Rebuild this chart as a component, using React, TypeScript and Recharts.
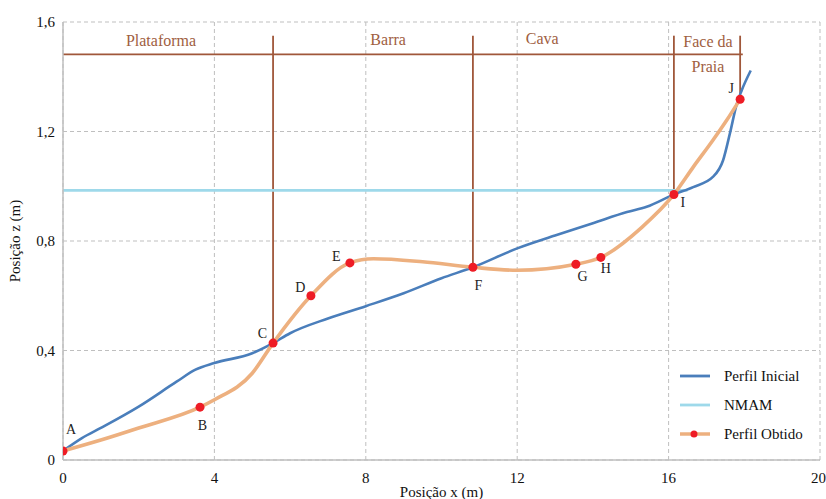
import React from 'react';
import {
  ComposedChart,
  Line,
  XAxis,
  YAxis,
  CartesianGrid,
  ReferenceLine,
  Scatter,
  Legend,
} from 'recharts';

// ---- axis ticks ----
const xTicks = [0, 4, 8, 12, 16, 20];
const zTicks = [0, 0.4, 0.8, 1.2, 1.6];

// ---- Perfil Inicial (blue) ----
const inicialX = [0, 0.5, 1, 2, 3, 3.5, 4, 5, 5.55, 6, 7, 8, 9, 10, 10.83, 12, 13, 14, 14.9, 15.42, 16.14, 16.65, 17.17, 17.44, 17.62, 17.8, 17.93, 18.17];
const inicialZ = [0.033, 0.08, 0.117, 0.195, 0.286, 0.33, 0.354, 0.39, 0.427, 0.463, 0.517, 0.562, 0.609, 0.664, 0.704, 0.773, 0.82, 0.865, 0.906, 0.925, 0.97, 0.997, 1.034, 1.095, 1.193, 1.3, 1.35, 1.423];

// ---- NMAM (light blue) ----
const nmamX = [0, 16.5];
const nmamZ = [0.985, 0.985];

// ---- Perfil Obtido (orange) ----
const obtidoX = [0, 1, 2, 3.62, 4, 5, 5.55, 6.55, 7.58, 8.2, 9.5, 10.83, 12, 13.55, 14.21, 15.3, 16.14, 16.65, 17.17, 17.53, 17.89];
const obtidoZ = [0.033, 0.073, 0.117, 0.193, 0.22, 0.317, 0.427, 0.6, 0.72, 0.735, 0.724, 0.704, 0.693, 0.715, 0.74, 0.851, 0.97, 1.07, 1.168, 1.24, 1.318];
const obtidoLabel = ['A', '', '', 'B', '', '', 'C', 'D', 'E', '', '', 'F', '', 'G', 'H', '', 'I', '', '', '', 'J'];

// ---- sections ----
const sectionBoundaries = ['C', 'F', 'I', 'J'];
const sectionTopZ = 1.55;
const sectionBarZ = 1.482;
const sectionBarEndX = 17.96;

const regionNames = ['Plataforma', 'Barra', 'Cava', 'Face da', 'Praia'];
const regionX = [2.59, 8.59, 12.66, 17.04, 17.04];
const regionZ = [1.533, 1.536, 1.54, 1.529, 1.436];

// ---- legend ----
const legendNames = ['Perfil Inicial', 'NMAM', 'Perfil Obtido'];

// ---- styles ----
const FONT = '"Liberation Serif", "Times New Roman", serif';
const BLUE = '#4A7EBB';
const CYAN = '#9ED9EA';
const ORANGE = '#EDB07F';
const RED = '#EE1C25';
const BROWN = '#A0573A';
const BROWN_TEXT = '#A0603F';
const GRID = '#BFBFBF';

const letterOffsets: Record<string, [number, number]> = {
  A: [8, -21],
  B: [2.5, 18],
  C: [-10.6, -10],
  D: [-10.5, -8.5],
  E: [-13.5, -6],
  F: [5.6, 18],
  G: [6.7, 12],
  H: [5, 11],
  I: [9, 8],
  J: [-9, -10.7],
};

const inicialData = inicialX.map((x, i) => ({ x, z: inicialZ[i] }));
const nmamData = nmamX.map((x, i) => ({ x, z: nmamZ[i] }));
const obtidoData = obtidoX.map((x, i) => ({ x, z: obtidoZ[i], label: obtidoLabel[i] }));
const regionData = regionNames.map((name, i) => ({ x: regionX[i], z: regionZ[i], name }));

const fmtZ = (v: number) => (v === 0 ? '0' : v.toFixed(1).replace('.', ','));

const renderObtidoDot = (props: any) => {
  const { cx, cy, payload, index } = props;
  if (!payload || !payload.label) return <g key={`od-${index}`} />;
  const off = letterOffsets[payload.label] || [0, 0];
  return (
    <g key={`od-${index}`}>
      <circle cx={cx} cy={cy} r={4.5} fill={RED} stroke="none" />
      <text
        x={cx + off[0]}
        y={cy + off[1]}
        textAnchor="middle"
        dominantBaseline="central"
        fontSize={14}
        fontFamily={FONT}
        fill="#222"
      >
        {payload.label}
      </text>
    </g>
  );
};

const renderRegionLabel = (props: any) => {
  const { cx, cy, payload } = props;
  return (
    <text
      x={cx}
      y={cy}
      textAnchor="middle"
      dominantBaseline="central"
      fontSize={16}
      fontFamily={FONT}
      fill={BROWN_TEXT}
    >
      {payload.name}
    </text>
  );
};

const legendColors = [BLUE, CYAN, ORANGE];
const renderLegend = () => (
  <svg width={150} height={95} style={{ display: 'block' }}>
    {legendNames.map((name, i) => {
      const y = 16 + i * 29;
      return (
        <g key={name}>
          <line x1={4} x2={34} y1={y} y2={y} stroke={legendColors[i]} strokeWidth={i === 2 ? 3.5 : 2.8} />
          {i === 2 && <circle cx={18} cy={y} r={3.5} fill={RED} />}
          <text x={48} y={y} dominantBaseline="central" fontSize={15} fontFamily={FONT} fill="#111">
            {name}
          </text>
        </g>
      );
    })}
  </svg>
);

export default function App() {
  return (
    <div style={{ position: 'absolute', left: 0, top: 0, width: 826, height: 499, background: '#fff' }}>
      <ComposedChart width={826} height={499} margin={{ top: 22, right: 6, bottom: 0, left: 0 }}>
        <CartesianGrid stroke={GRID} strokeDasharray="4 3" />
        <XAxis
          type="number"
          dataKey="x"
          domain={[0, 20]}
          ticks={xTicks}
          allowDataOverflow
          height={39}
          axisLine={{ stroke: GRID, strokeWidth: 1.5 }}
          tickLine={false}
          tickMargin={6}
          tick={{ fontSize: 15, fontFamily: FONT, fill: '#111' }}
          label={{
            value: 'Posição x (m)',
            position: 'insideBottom',
            offset: 2,
            style: { fontSize: 15, fontFamily: FONT, fill: '#111' },
          }}
        />
        <YAxis
          type="number"
          domain={[0, 1.6]}
          ticks={zTicks}
          allowDataOverflow
          width={63}
          axisLine={{ stroke: GRID, strokeWidth: 1.5 }}
          tickLine={false}
          tickFormatter={fmtZ}
          tick={{ fontSize: 15, fontFamily: FONT, fill: '#111' }}
          label={{
            value: 'Posição z (m)',
            angle: -90,
            position: 'insideLeft',
            offset: 15,
            style: { fontSize: 15, fontFamily: FONT, fill: '#111', textAnchor: 'middle' },
          }}
        />
        {sectionBoundaries.map((letter) => {
          const i = obtidoLabel.indexOf(letter);
          return (
            <ReferenceLine
              key={`sec-${letter}`}
              segment={[
                { x: obtidoX[i], y: sectionTopZ },
                { x: obtidoX[i], y: obtidoZ[i] },
              ]}
              stroke={BROWN}
              strokeWidth={1.8}
              ifOverflow="visible"
            />
          );
        })}
        <ReferenceLine
          segment={[
            { x: 0, y: sectionBarZ },
            { x: sectionBarEndX, y: sectionBarZ },
          ]}
          stroke={BROWN}
          strokeWidth={1.8}
          ifOverflow="visible"
        />
        <Line
          data={nmamData}
          dataKey="z"
          type="linear"
          stroke={CYAN}
          strokeWidth={2.8}
          dot={false}
          activeDot={false}
          isAnimationActive={false}
        />
        <Line
          data={inicialData}
          dataKey="z"
          type="monotone"
          stroke={BLUE}
          strokeWidth={2.6}
          dot={false}
          activeDot={false}
          isAnimationActive={false}
        />
        <Line
          data={obtidoData}
          dataKey="z"
          type="monotone"
          stroke={ORANGE}
          strokeWidth={3.6}
          dot={renderObtidoDot}
          activeDot={false}
          isAnimationActive={false}
        />
        <Scatter data={regionData} dataKey="z" shape={renderRegionLabel} isAnimationActive={false} />
        <Legend
          layout="horizontal"
          align="center"
          verticalAlign="middle"
          content={renderLegend}
          wrapperStyle={{ left: 676, top: 360, width: 150, height: 95 }}
        />
      </ComposedChart>
    </div>
  );
}
